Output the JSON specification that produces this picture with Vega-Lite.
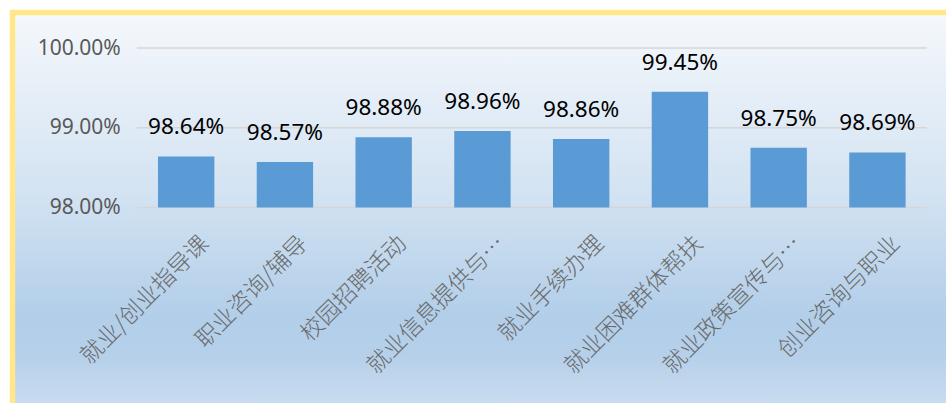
{
  "$schema": "https://vega.github.io/schema/vega-lite/v6.json",
  "autosize": {"type": "none"},
  "width": 790,
  "height": 159.5,
  "padding": {"left": 136.8, "top": 48, "right": 19.2, "bottom": 195.5},
  "background": "#FFFFFF",
  "config": {
    "view": {"stroke": null},
    "axis": {"domain": false, "ticks": false, "grid": false}
  },
  "datasets": {
    "rates": [
      {"item": "就业/创业指导课", "rate": 0.9864},
      {"item": "职业咨询/辅导", "rate": 0.9857},
      {"item": "校园招聘活动", "rate": 0.9888},
      {"item": "就业信息提供与…", "rate": 0.9896},
      {"item": "就业手续办理", "rate": 0.9886},
      {"item": "就业困难群体帮扶", "rate": 0.9945},
      {"item": "就业政策宣传与…", "rate": 0.9875},
      {"item": "创业咨询与职业", "rate": 0.9869}
    ],
    "frame": [{"name": "frame"}],
    "ticks": [{"tick": 0.98}, {"tick": 0.99}, {"tick": 1.0}]
  },
  "layer": [
    {
      "data": {"name": "frame"},
      "mark": {
        "type": "rect",
        "xOffset": -124.3,
        "x2Offset": 30,
        "yOffset": -35.5,
        "y2Offset": 205,
        "stroke": "#FFE78A",
        "strokeWidth": 5.5,
        "fill": {
          "gradient": "linear",
          "x1": 0, "y1": 0, "x2": 0, "y2": 1,
          "stops": [
            {"offset": 0, "color": "#F5F8FC"},
            {"offset": 0.45, "color": "#D3E3F2"},
            {"offset": 0.76, "color": "#B2CEE9"},
            {"offset": 0.86, "color": "#B6D0EA"},
            {"offset": 1, "color": "#CCDEF0"}
          ]
        }
      },
      "encoding": {
        "x": {"value": 0},
        "x2": {"value": "width"},
        "y": {"value": 0},
        "y2": {"value": "height"}
      }
    },
    {
      "data": {"name": "ticks"},
      "mark": {"type": "rule", "color": "#D6D6D6", "strokeWidth": 1.3},
      "encoding": {
        "y": {"field": "tick", "type": "quantitative"}
      }
    },
    {
      "data": {"name": "rates"},
      "mark": {"type": "bar", "color": "#5B9BD5"},
      "encoding": {
        "x": {
          "field": "item",
          "type": "nominal",
          "sort": null,
          "scale": {"paddingInner": 0.429, "paddingOuter": 0.2145},
          "axis": {
            "title": null,
            "zindex": 2,
            "labelAngle": -45,
            "labelAlign": "right",
            "labelBaseline": "middle",
            "labelOffset": 19,
            "labelPadding": 32,
            "labelFont": "Noto Sans CJK SC",
            "labelFontSize": 23,
            "labelFontWeight": 300,
            "labelColor": "#6A6A6A",
            "labelLimit": 400
          }
        },
        "y": {
          "field": "rate",
          "type": "quantitative",
          "scale": {"domain": [0.98, 1.0], "zero": false, "nice": false},
          "axis": {
            "title": null,
            "zindex": 2,
            "values": [0.98, 0.99, 1.0],
            "format": ".2%",
            "labelFont": "Noto Sans",
            "labelFontSize": 21,
            "labelColor": "#595959",
            "labelPadding": 16.5
          }
        },
        "y2": {"datum": 0.98}
      }
    },
    {
      "data": {"name": "rates"},
      "mark": {
        "type": "text",
        "font": "Noto Sans",
        "fontSize": 22.5,
        "color": "#000000",
        "baseline": "alphabetic",
        "dy": -22
      },
      "encoding": {
        "x": {"field": "item", "type": "nominal", "sort": null},
        "y": {"field": "rate", "type": "quantitative"},
        "text": {"field": "rate", "type": "quantitative", "format": ".2%"}
      }
    }
  ]
}
